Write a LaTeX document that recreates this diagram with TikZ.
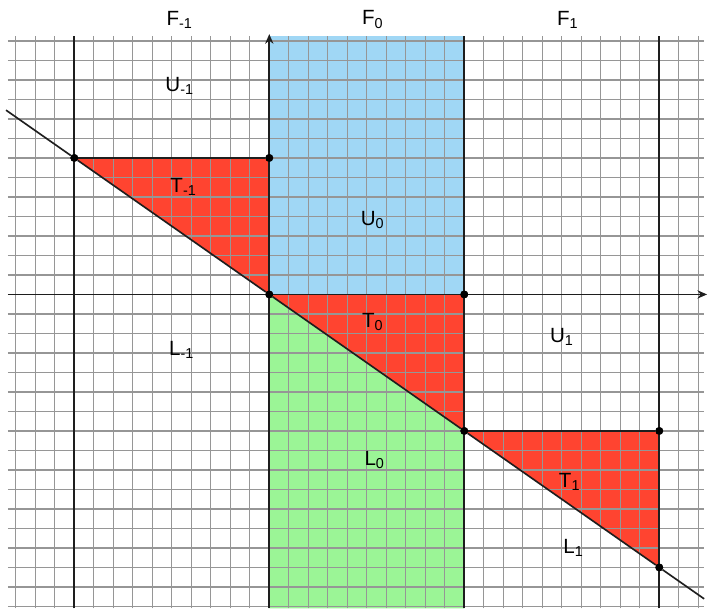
\documentclass[tikz,border=0pt]{standalone}
\usepackage{fontspec}
\setmainfont{Liberation Sans}
\usetikzlibrary{arrows.meta}
\definecolor{bluefill}{RGB}{160,215,245}
\definecolor{redfill}{RGB}{255,68,48}
\definecolor{greenfill}{RGB}{155,245,150}
\definecolor{gridgray}{RGB}{150,150,150}
\definecolor{darkline}{RGB}{30,30,30}
\begin{document}
\begin{tikzpicture}[x=0.5cm,y=0.5cm,
  gridline/.style={gridgray,line width=1pt},
  darkl/.style={darkline,line width=1.2pt},
  arrowl/.style={darkline,line width=1.2pt,-{Stealth[length=7pt,width=6pt]}},
  dot/.style={circle,fill=black,inner sep=0pt,minimum size=0.2cm},
  lab/.style={font=\fontsize{15}{17}\selectfont,inner sep=0pt}]
\useasboundingbox (-13.81,-16.13) rectangle (22.55,15.10);
\fill[white] (-13.81,-16.13) rectangle (22.55,15.10);
% fills
\fill[bluefill] (0,0) rectangle (10,13.25);
\fill[greenfill] (0,0) -- (10,-7) -- (10,-16.1) -- (0,-16.1) -- cycle;
\fill[redfill] (-10,7) -- (0,7) -- (0,0) -- cycle;
\fill[redfill] (0,0) -- (10,0) -- (10,-7) -- cycle;
\fill[redfill] (10,-7) -- (20,-7) -- (20,-14) -- cycle;
% grid
\foreach \i in {-13,...,22} \draw[gridline] (\i,-16.1) -- (\i,13.25);
\foreach \j in {-16,...,13} \draw[gridline] (-13.4,\j) -- (22.3,\j);
% points
\node[dot] (a) at (-10,7) {};
\node[dot] (b) at (0,7) {};
\node[dot] (o) at (0,0) {};
\node[dot] (c) at (10,0) {};
\node[dot] (d) at (10,-7) {};
\node[dot] (e) at (20,-7) {};
\node[dot] (f) at (20,-14) {};
\coordinate (dl) at (-13.5,9.45);
\coordinate (dr) at (22.3,-15.61);
\coordinate (ybot) at (0,-16.1);
\coordinate (ytop) at (0,13.35);
\coordinate (xl) at (-13.4,0);
\coordinate (xr) at (22.45,0);
\coordinate (m1t) at (-10,13.25);
\coordinate (m1b) at (-10,-16.1);
\coordinate (p1t) at (10,13.25);
\coordinate (p1b) at (10,-16.1);
\coordinate (p2t) at (20,13.25);
\coordinate (p2b) at (20,-16.1);
% dark lines
\draw[darkl] (m1b) -- (m1t);
\draw[darkl] (p1b) -- (p1t);
\draw[darkl] (p2b) -- (p2t);
\draw[darkl] (a) -- (b);
\draw[darkl] (d) -- (e);
\draw[darkl] (dl) -- (a) -- (o) -- (d) -- (f) -- (dr);
\draw[arrowl] (ybot) -- (ytop);
\draw[arrowl] (xl) -- (xr);
\node[dot] at (a) {};
\node[dot] at (b) {};
\node[dot] at (o) {};
\node[dot] at (c) {};
\node[dot] at (d) {};
\node[dot] at (e) {};
\node[dot] at (f) {};
% labels
\node[lab] (Fm) at (-4.6,14.1) {F\textsubscript{-1}};
\node[lab] (F0) at (5.3,14.1) {F\textsubscript{0}};
\node[lab] (F1) at (15.3,14.1) {F\textsubscript{1}};
\node[lab] (Um) at (-4.6,10.7) {U\textsubscript{-1}};
\node[lab] (Tm) at (-4.4,5.5) {T\textsubscript{-1}};
\node[lab] (U0) at (5.3,3.8) {U\textsubscript{0}};
\node[lab] (T0) at (5.3,-1.4) {T\textsubscript{0}};
\node[lab] (Lm) at (-4.5,-2.85) {L\textsubscript{-1}};
\node[lab] (U1) at (15.0,-2.2) {U\textsubscript{1}};
\node[lab] (L0) at (5.4,-8.5) {L\textsubscript{0}};
\node[lab] (T1) at (15.4,-9.6) {T\textsubscript{1}};
\node[lab] (L1) at (15.6,-13.0) {L\textsubscript{1}};
\end{tikzpicture}
\end{document}
